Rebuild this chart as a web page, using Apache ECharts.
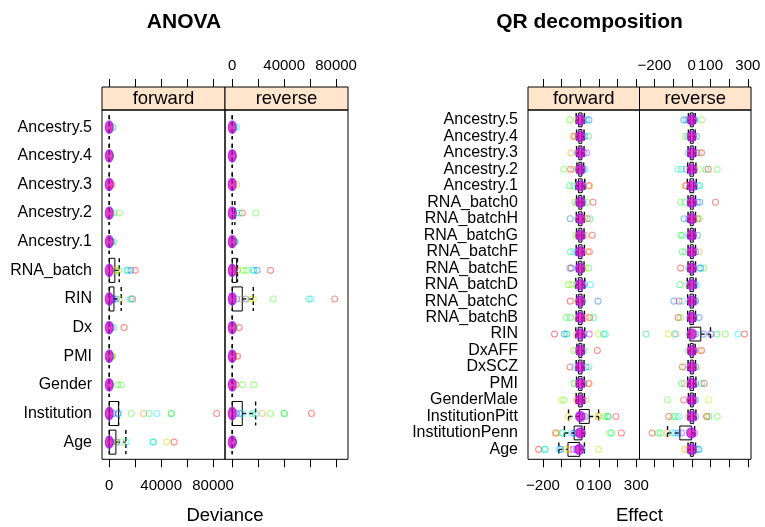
<!DOCTYPE html>
<html><head><meta charset="utf-8">
<script src="https://cdn.jsdelivr.net/npm/echarts@6/dist/echarts.min.js"></script>
<style>html,body{margin:0;padding:0;background:#fff}#c{width:765px;height:527px}</style>
</head><body><div id="c"></div>
<script>
// ---------- DATA (categories listed bottom to top) ----------
const anovaCats = ['Age','Institution','Gender','PMI','Dx','RIN','RNA_batch','Ancestry.1','Ancestry.2','Ancestry.3','Ancestry.4','Ancestry.5'];
const qrCats = ['Age','InstitutionPenn','InstitutionPitt','GenderMale','PMI','DxSCZ','DxAFF','RIN','RNA_batchB','RNA_batchC','RNA_batchD','RNA_batchE','RNA_batchF','RNA_batchG','RNA_batchH','RNA_batch0','Ancestry.1','Ancestry.2','Ancestry.3','Ancestry.4','Ancestry.5'];
const panelNames = ['forward','reverse'];

const anovaTicks = [0,20000,40000,60000,80000];
const anovaTickLabels = [0,40000,80000];
const qrTicks = [-200,-100,0,100,200,300];
const qrTickLabels = [-200,0,100,300];

// box stats: [lower whisker, Q1, median, Q3, upper whisker]
const anovaFwdBox = [[0,0,0,5100,12800],[0,0,0,7200,7200],[0,0,0,0,0],[0,0,0,0,0],[0,0,0,0,0],[0,0,0,3600,9200],[0,0,0,4300,7700],[0,0,0,0,0],[0,0,0,0,0],[0,0,0,0,0],[0,0,0,0,0],[0,0,0,0,0]];
const anovaRevBox = [[0,0,0,0,0],[0,0,0,7700,18000],[0,0,0,0,0],[0,0,0,0,0],[0,0,0,0,0],[0,0,0,7700,16200],[0,0,0,3400,4000],[0,0,0,0,0],[0,0,0,0,2000],[0,0,0,0,0],[0,0,0,0,0],[0,0,0,0,0]];
const qrFwdBox = [[-115,-66,-5,-3,22],[-85,-33,0,9,22],[-63,-5,0,48,98],[-22,-9,0,10,22],[-20,-9,0,9,21],[-22,-10,-1,9,20],[-18,-8,0,8,20],[-24,-11,0,10,24],[-22,-10,0,9,22],[-20,-9,0,9,21],[-24,-10,0,10,24],[-20,-9,0,8,20],[-22,-9,0,9,22],[-20,-8,0,8,20],[-21,-9,0,9,22],[-20,-8,0,8,20],[-24,-10,0,10,24],[-18,-8,0,8,18],[-20,-8,0,8,20],[-20,-8,0,8,20],[-22,-9,0,9,22]];
const qrRevBox = [[-20,-8,0,8,20],[-130,-64,-3,-1,15],[-20,-8,0,10,22],[-18,-8,0,8,18],[-22,-9,0,9,22],[-20,-8,0,8,20],[-18,-8,0,8,18],[-22,-10,0,48,100],[-22,-10,0,9,20],[-22,-9,0,9,20],[-24,-10,0,9,22],[-20,-8,0,8,20],[-20,-8,0,8,20],[-20,-8,0,8,18],[-20,-8,0,8,20],[-20,-8,0,8,20],[-24,-10,0,10,24],[-22,-10,0,9,22],[-20,-8,0,8,20],[-18,-8,0,8,18],[-18,-8,0,8,18]];

// individual results: [value, group (0..9)]
const anovaFwdPts = [
  [[50000,0],[44400,2],[34100,4],[33600,5],[13100,5],[9200,2],[5900,6],[4100,1],[2000,3],[1000,7]],
  [[82800,0],[26400,1],[17000,3],[47700,3],[48000,4],[30800,4],[36700,5],[7000,6],[6500,5],[3000,7]],
  [[6400,3],[9200,3],[800,6]],
  [[2000,1],[2500,3],[1500,4]],
  [[11500,0],[3300,4],[1500,6]],
  [[18000,0],[17000,4],[16000,5],[8500,2],[5400,6],[3300,6],[2500,7]],
  [[20000,0],[16700,6],[14400,5],[13600,4],[7200,3],[4600,2],[5500,1]],
  [[3300,4],[2000,3],[1500,6]],
  [[3300,4],[7700,3],[1500,1]],
  [[2300,1],[1500,0]],
  [[1200,3],[800,5]],
  [[3000,5],[2500,3]]
];
const anovaRevPts = [
  [[1500,3],[1000,6]],
  [[61000,0],[40000,4],[40300,3],[29500,3],[23100,1],[18000,5],[15400,4],[7700,5],[5900,6],[3000,7]],
  [[2800,0],[8000,3],[16700,3]],
  [[4100,0],[3000,1]],
  [[5400,0],[2000,3]],
  [[79000,0],[60800,5],[59200,4],[31500,3],[16200,2],[14200,2],[10300,6],[7200,1],[3400,6]],
  [[29500,0],[19200,6],[16700,5],[16200,4],[11000,3],[8500,3],[3900,1]],
  [[2000,3],[1500,6],[2500,4]],
  [[5400,4],[7700,0],[18200,3],[3000,5]],
  [[3400,1]],
  [[800,6]],
  [[3400,5],[2000,4]]
];
const qrFwdPts = [
  [[-223,0],[-193,4],[-186,5],[-113,5],[-105,6],[-80,2],[-60,1],[-37,8],[-20,6],[98,2],[10,5]],
  [[-132,0],[-127,1],[-100,3],[-93,5],[-46,5],[-34,6],[12,8],[159,3],[168,4],[220,0],[-15,7]],
  [[-63,2],[98,1],[96,2],[130,3],[145,4],[150,4],[191,0],[10,6],[25,7],[-10,5]],
  [[-100,2],[-88,3],[-20,1],[30,1],[-12,0],[15,6]],
  [[-34,4],[43,0],[48,1],[20,6],[-25,2]],
  [[-55,0],[46,4],[30,6],[-30,5]],
  [[-34,3],[91,0],[20,4],[-20,2]],
  [[-138,0],[-86,6],[-71,5],[-75,3],[48,8],[96,2],[125,4],[134,5],[-20,1],[20,6]],
  [[-75,3],[-54,4],[50,0],[71,4],[30,1],[-20,2]],
  [[-54,0],[95,6],[15,4],[-15,2]],
  [[-63,3],[-45,2],[54,5],[20,6],[-20,4]],
  [[-55,6],[-48,0],[45,3],[25,2],[-15,5]],
  [[-52,4],[-35,5],[48,0],[38,1],[-15,6]],
  [[-25,3],[29,1],[64,0],[-15,2],[15,6]],
  [[-54,6],[52,4],[37,0],[20,2],[-15,3]],
  [[-30,2],[-20,4],[34,3],[68,0],[15,6]],
  [[-57,4],[-37,3],[50,1],[45,0],[15,6],[-15,5]],
  [[-87,3],[-52,0],[-34,1],[16,6],[25,5],[-15,4]],
  [[-50,1],[34,8],[20,6],[-15,4]],
  [[-39,1],[-30,0],[43,4],[23,6],[-15,3]],
  [[-57,3],[34,5],[46,6],[20,4],[-20,2]]
];
const qrRevPts = [
  [[-37,1],[34,6],[40,5],[20,4],[-20,2]],
  [[-212,0],[-180,3],[-168,4],[-130,1],[-104,5],[-90,5],[-73,6],[-55,7],[15,8]],
  [[-123,0],[-102,3],[-88,4],[-68,5],[79,0],[82,1],[91,4],[136,3],[20,6],[-20,2]],
  [[-130,3],[-43,0],[91,2],[20,6]],
  [[-55,4],[-40,1],[66,0],[52,4],[20,6]],
  [[-50,0],[-37,3],[25,2],[20,6]],
  [[52,0],[40,1],[-20,3],[15,6]],
  [[-244,4],[-125,2],[-91,5],[-85,1],[63,6],[102,7],[134,4],[179,3],[247,5],[282,0],[20,6],[-15,3]],
  [[-73,0],[-60,3],[39,6],[15,4]],
  [[-96,6],[-68,0],[-50,5],[16,4],[20,6]],
  [[-64,4],[25,5],[-20,3],[15,6]],
  [[-59,0],[48,6],[64,3],[40,5],[-15,4]],
  [[-50,4],[-35,3],[39,1],[20,6]],
  [[-59,4],[-50,3],[30,6],[-15,5]],
  [[-41,6],[30,0],[40,3],[20,2],[-20,5]],
  [[-59,3],[-37,4],[43,6],[30,6],[127,0]],
  [[-37,1],[-30,0],[43,4],[35,5],[15,6]],
  [[-73,5],[-55,4],[-30,6],[34,2],[75,4],[88,0],[136,3],[15,7]],
  [[52,0],[39,1],[25,6],[-20,4]],
  [[-34,3],[25,6],[-20,4]],
  [[-43,6],[-30,4],[-20,5],[52,3],[15,6]]
];

// ---------- STYLE / LAYOUT ----------
const FONT = '"Liberation Sans", Arial, Helvetica, sans-serif';
const palette = ['rgba(255,0,0,0.55)','rgba(255,153,0,0.6)','rgba(204,230,0,0.65)','rgba(51,255,0,0.55)','rgba(0,240,102,0.6)','rgba(0,230,255,0.6)','rgba(0,102,255,0.55)','rgba(51,0,255,0.5)','rgba(204,0,255,0.55)','rgba(255,0,153,0.55)'];

const charts = [
  {cats: anovaCats, min: -5600, max: 89200, ticks: anovaTicks, tickLabels: anovaTickLabels,
   lefts: [102, 225], width: 123, boxes: [anovaFwdBox, anovaRevBox], pts: [anovaFwdPts, anovaRevPts],
   blob: [8, 12], title: 'ANOVA', titleX: 184, xName: 'Deviance'},
  {cats: qrCats, min: -280, max: 317, ticks: qrTicks, tickLabels: qrTickLabels,
   lefts: [528, 639.5], width: 111.5, boxes: [qrFwdBox, qrRevBox], pts: [qrFwdPts, qrRevPts],
   blob: [9, 10], title: 'QR decomposition', titleX: 589.5, xName: 'Effect'}
];

const PANEL_TOP = 110, PANEL_H = 349.3, STRIP_TOP = 87, STRIP_H = 23;
const fmt = v => (v < 0 ? '\u2212' + Math.abs(v) : String(v));

const grids = [], xAxes = [], yAxes = [], series = [], graphics = [];
function addGrid(g, xa, ya) {
  grids.push(g); const i = grids.length - 1;
  xAxes.push(Object.assign({gridIndex: i}, xa));
  yAxes.push(Object.assign({gridIndex: i}, ya));
  return i;
}

function renderBox(params, api) {
  const y = api.value(0);
  const lo = api.coord([api.value(1), y]);
  const q1 = api.coord([api.value(2), y]);
  const q3 = api.coord([api.value(4), y]);
  const hi = api.coord([api.value(5), y]);
  const h = api.size([0, 1])[1] * 0.84;
  const cy = lo[1];
  const dash = {stroke: '#000', lineWidth: 1.4, lineDash: [4, 3], fill: null};
  const children = [
    {type: 'line', shape: {x1: lo[0], y1: cy, x2: q1[0], y2: cy}, style: dash},
    {type: 'line', shape: {x1: q3[0], y1: cy, x2: hi[0], y2: cy}, style: dash},
    {type: 'line', shape: {x1: lo[0], y1: cy - h / 2, x2: lo[0], y2: cy + h / 2}, style: dash},
    {type: 'line', shape: {x1: hi[0], y1: cy - h / 2, x2: hi[0], y2: cy + h / 2}, style: dash}
  ];
  if (q3[0] - q1[0] > 0.5) {
    children.push({type: 'rect', shape: {x: q1[0], y: cy - h / 2, width: q3[0] - q1[0], height: h},
      style: {fill: null, stroke: '#000', lineWidth: 1}});
  }
  return {type: 'group', children};
}

charts.forEach(ch => {
  const n = ch.cats.length;
  ch.lefts.forEach((left, p) => {
    // strip
    addGrid({left, top: STRIP_TOP, width: ch.width, height: STRIP_H, show: true,
             backgroundColor: '#FFE5CC', borderColor: '#000', borderWidth: 1},
      {type: 'value', position: 'top', min: ch.min, max: ch.max,
       axisLine: {show: false, onZero: false}, splitLine: {show: false},
       axisTick: {show: true, customValues: ch.ticks, length: 8, lineStyle: {color: '#000', width: 1}},
       axisLabel: {show: p === 1, customValues: ch.tickLabels, formatter: fmt, fontSize: 15,
                   color: '#000', margin: 14, fontFamily: FONT}},
      {type: 'value', show: false, min: 0, max: 1});
    graphics.push({type: 'text', x: left + ch.width / 2, y: STRIP_TOP + STRIP_H / 2,
      style: {text: panelNames[p], font: '18.5px ' + FONT, fill: '#000',
              textAlign: 'center', align: 'center', textVerticalAlign: 'middle', verticalAlign: 'middle'}});
    // panel
    const gi = addGrid({left, top: PANEL_TOP, width: ch.width, height: PANEL_H, show: true,
             backgroundColor: 'transparent', borderColor: '#000', borderWidth: 1},
      {type: 'value', position: 'bottom', min: ch.min, max: ch.max,
       axisLine: {show: false, onZero: false}, splitLine: {show: false},
       axisTick: {show: true, customValues: ch.ticks, length: 8, lineStyle: {color: '#000', width: 1}},
       axisLabel: {show: p === 0, customValues: ch.tickLabels, formatter: fmt, fontSize: 15,
                   color: '#000', margin: 19, fontFamily: FONT}},
      {type: 'value', min: 0.4, max: n + 0.6,
       axisLine: {show: false, onZero: false}, splitLine: {show: false}, axisTick: {show: false},
       axisLabel: {show: p === 0, customValues: ch.cats.map((c, i) => i + 1),
                   formatter: v => ch.cats[Math.round(v) - 1], fontSize: 16, color: '#000',
                   margin: 10, fontFamily: FONT}});
    const box = ch.boxes[p];
    series.push({type: 'custom', xAxisIndex: gi, yAxisIndex: gi, silent: true, clip: true,
      renderItem: renderBox, data: box.map((b, i) => [i + 1].concat(b))});
    const pts = [];
    ch.pts[p].forEach((row, i) => row.forEach(([v, g]) => pts.push({g, value: [v, i + 1]})));
    pts.sort((a, b) => a.g - b.g);
    series.push({type: 'scatter', xAxisIndex: gi, yAxisIndex: gi, silent: true, symbol: 'circle', symbolSize: 6,
      itemStyle: {color: 'rgba(0,0,0,0)', borderWidth: 1.1},
      data: pts.map(d => ({value: d.value, itemStyle: {borderColor: palette[d.g]}}))});
    series.push({type: 'scatter', xAxisIndex: gi, yAxisIndex: gi, silent: true, symbol: 'circle',
      symbolSize: ch.blob,
      itemStyle: {color: 'rgba(222,0,190,0.93)', borderColor: 'rgba(150,30,235,0.9)', borderWidth: 1.5},
      data: box.map((b, i) => [b[2], i + 1])});
  });
  graphics.push({type: 'text', x: ch.titleX, y: 22,
    style: {text: ch.title, font: 'bold 21px ' + FONT, fill: '#000',
            textAlign: 'center', align: 'center', textVerticalAlign: 'middle', verticalAlign: 'middle'}});
  const mid = (ch.lefts[0] + ch.lefts[1] + ch.width) / 2;
  graphics.push({type: 'text', x: mid, y: 516,
    style: {text: ch.xName, font: '18.5px ' + FONT, fill: '#000',
            textAlign: 'center', align: 'center', textVerticalAlign: 'middle', verticalAlign: 'middle'}});
});

const chart = echarts.init(document.getElementById('c'), null, {renderer: 'canvas'});
chart.setOption({
  animation: false,
  backgroundColor: '#fff',
  textStyle: {fontFamily: FONT},
  grid: grids, xAxis: xAxes, yAxis: yAxes, series: series,
  graphic: {elements: graphics}
});
</script></body></html>
